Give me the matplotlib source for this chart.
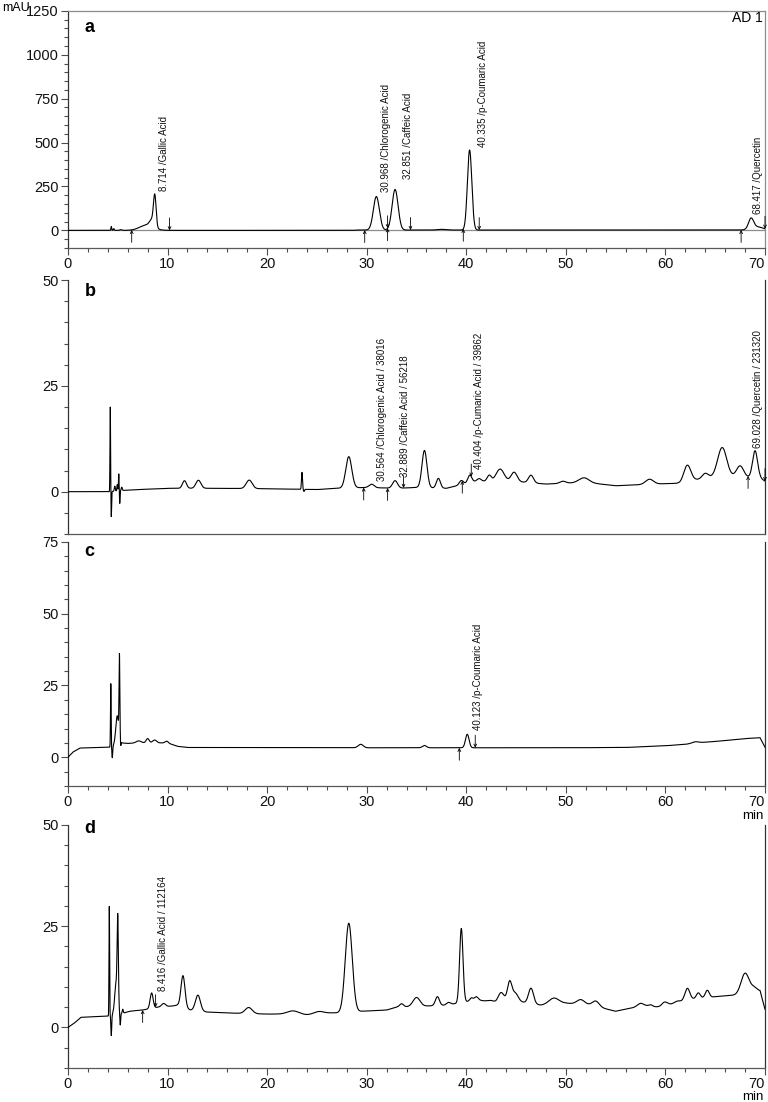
import numpy as np
import matplotlib
matplotlib.use("Agg")
import matplotlib.pyplot as plt
from matplotlib.ticker import MultipleLocator

plt.rcParams['font.family'] = ['Liberation Sans', 'DejaVu Sans']

# ---------------------------------------------------------------------------
# Chromatogram data (time in min, signal in mAU)
# baseline knots + peaks (centre, height above baseline, width)

# a : standards
a_base_t = [0, 28.7, 29.0, 70]
a_base_y = [0, 0, 2, 2]
a_peak_t = [4.35, 4.6, 5.3, 7.9, 8.45, 8.72, 30.97, 32.85, 37.5, 40.335, 68.6, 69.2]
a_peak_h = [22, 10, 4, 30, 40, 170, 191, 231, 4, 456, 58, 18]
a_peak_w = [0.04, 0.05, 0.1, 0.7, 0.25, 0.13, 0.3, 0.3, 0.4, 0.22, 0.25, 0.6]
a_labels = ["8.714 /Gallic Acid", "30.968 /Chlorogenic Acid", "32.851 /Caffeic Acid",
            "40.335 /p-Coumaric Acid", "68.417 /Quercetin"]
a_label_t = [9.65, 31.95, 34.1, 41.65, 69.3]
a_label_y = [227, 216, 290, 477, 91]
a_up = [6.4, 29.8, 32.1, 39.7, 67.6]
a_down = [10.2, 32.1, 34.4, 41.3, 70.0]

# b
b_base_t = [0, 4.2, 5.5, 7, 10, 15, 20, 25, 27, 30, 33, 35, 38, 41, 45, 48, 52, 55,
            58, 60, 61.5, 63, 65, 67, 69.5, 70]
b_base_y = [0, 0, 0.3, 0.5, 0.8, 0.8, 0.7, 0.5, 0.8, 1.0, 0.8, 1.0, 0.8, 2.5, 2.4, 1.8,
            2.2, 1.4, 1.7, 1.9, 2.0, 2.8, 3.5, 3.6, 3.2, 2.5]
b_peak_t = [4.25, 4.35, 4.7, 4.95, 5.1, 5.2, 5.4, 11.7, 13.1, 18.2, 23.5, 23.7, 28.2,
            30.5, 32.85, 35.8, 37.2, 39.5, 40.35, 41.3, 42.3, 43.4, 44.8, 46.5, 49.7,
            51.8, 58.4, 62.2, 64.0, 65.7, 67.5, 69.0]
b_peak_h = [20, -6, 1.2, 1.5, 4, -3, 0.8, 1.8, 1.9, 2.0, 4.0, -0.5, 7.4,
            0.8, 1.8, 8.8, 2.3, 1.0, 1.8, 0.6, 1.4, 2.9, 2.2, 1.8, 0.5,
            1.1, 1.2, 3.9, 1.2, 6.9, 2.6, 6.4]
b_peak_w = [0.03, 0.03, 0.05, 0.04, 0.03, 0.03, 0.05, 0.2, 0.25, 0.3, 0.05, 0.05, 0.3,
            0.25, 0.25, 0.25, 0.2, 0.2, 0.2, 0.2, 0.2, 0.4, 0.3, 0.25, 0.3,
            0.5, 0.4, 0.35, 0.3, 0.45, 0.35, 0.25]
b_labels = ["30.564 /Chlorogenic Acid / 38016", "32.889 /Caffeic Acid / 56218",
            "40.404 /p-Cumaric Acid / 39862", "69.028 /Quercetin / 231320"]
b_label_t = [31.5, 33.8, 41.3, 69.3]
b_label_y = [2.5, 3.5, 5.4, 10.3]
b_up = [29.7, 32.1, 39.6, 68.3]
b_down = [33.7, 40.5, 70.0]

# c
c_base_t = [0, 0.5, 1.2, 4.2, 5.4, 6, 7, 10, 11, 12, 30, 50, 56, 60, 62, 63, 65, 68, 69.5, 70]
c_base_y = [0, 1.8, 3.2, 3.5, 5.0, 4.8, 5.0, 5.0, 3.8, 3.4, 3.3, 3.3, 3.4, 4.0, 4.5,
            5.0, 5.5, 6.5, 6.8, 3.5]
c_peak_t = [4.3, 4.45, 4.95, 5.17, 5.3, 7.1, 8.0, 8.7, 9.9, 29.4, 35.8, 40.1, 63.0]
c_peak_h = [22, -4, 10, 28, -1.5, 0.7, 1.5, 1.0, 0.6, 1.2, 0.8, 4.7, 0.4]
c_peak_w = [0.03, 0.04, 0.15, 0.04, 0.03, 0.25, 0.15, 0.2, 0.15, 0.25, 0.2, 0.18, 0.3]
c_labels = ["40.123 /p-Coumaric Acid"]
c_label_t = [41.2]
c_label_y = [9.4]
c_up = [39.3]
c_down = [40.9]

# d
d_base_t = [0, 0.6, 1.3, 4.0, 5.5, 6.2, 7.5, 9, 10.5, 11.0, 12.3, 14, 17, 20, 21, 24,
            26.5, 27.5, 29.5, 32, 33, 36, 38, 41, 42, 43, 45, 47.5, 50, 52.3, 54, 55,
            57, 58, 59.5, 61, 62.8, 65, 67, 69.5, 70]
d_base_y = [0, 1.0, 2.5, 2.8, 3.5, 4.0, 4.3, 5.0, 5.3, 5.5, 4.3, 3.8, 3.5, 3.3, 3.3,
            3.1, 3.6, 3.6, 4.0, 4.3, 5.0, 5.3, 5.5, 6.8, 6.5, 6.0, 6.5, 5.5, 6.0, 5.5,
            4.6, 4.0, 5.0, 5.3, 5.0, 6.0, 7.0, 7.6, 8.0, 9.0, 4.5]
d_peak_t = [4.15, 4.35, 4.85, 5.0, 5.25, 5.5, 8.4, 9.6, 11.55, 13.05, 18.15, 22.6, 25.2,
            28.2, 33.5, 35.0, 37.1, 38.2, 39.5, 40.5, 41.0, 42.5, 43.5, 44.35, 44.9,
            46.5, 48.8, 51.5, 53.0, 57.5, 58.5, 59.9, 61.2, 62.2, 63.3, 64.2, 68.0, 68.9]
d_peak_h = [27, -5, 8, 20, -3, 1, 3.8, 0.8, 7.8, 3.9, 1.5, 0.9, 0.6,
            22, 0.8, 2.2, 2.2, 0.6, 18.3, 0.7, 0.8, 0.4, 2.5, 4.8, 2.0,
            3.8, 1.5, 1.2, 1.4, 0.8, 0.4, 1.0, 0.4, 3.0, 1.4, 1.8, 5.0, 1.0]
d_peak_w = [0.03, 0.04, 0.15, 0.06, 0.04, 0.05, 0.15, 0.2, 0.2, 0.25, 0.35, 0.6, 0.5,
            0.35, 0.2, 0.35, 0.2, 0.2, 0.17, 0.15, 0.2, 0.3, 0.3, 0.22, 0.3,
            0.25, 0.5, 0.4, 0.35, 0.3, 0.2, 0.3, 0.3, 0.25, 0.2, 0.2, 0.4, 0.3]
d_labels = ["8.416 /Gallic Acid / 112164"]
d_label_t = [9.5]
d_label_y = [8.9]
d_up = [7.5]
d_down = [8.8]

x_ticks = [0, 10, 20, 30, 40, 50, 60, 70]

t = np.linspace(0, 70, 7001)


def trace(base_t, base_y, peak_t, peak_h, peak_w):
    """Baseline plus gaussian peaks on the time grid"""
    y = np.interp(t, base_t, base_y)
    for c, h, w in zip(peak_t, peak_h, peak_w):
        y += h * np.exp(-0.5 * ((t - c) / w) ** 2)
    return y


panels = [
    dict(name="a", base=(a_base_t, a_base_y), peaks=(a_peak_t, a_peak_h, a_peak_w),
         labels=(a_labels, a_label_t, a_label_y), up=a_up, down=a_down,
         ylim=(-100, 1250), major=250, minor=50, rect=[0.0885, 0.7750, 0.9076, 0.2151],
         letter_y=0.93, xlabels=True),
    dict(name="b", base=(b_base_t, b_base_y), peaks=(b_peak_t, b_peak_h, b_peak_w),
         labels=(b_labels, b_label_t, b_label_y), up=b_up, down=b_down,
         ylim=(-10, 50), major=25, minor=5, rect=[0.0885, 0.5154, 0.9076, 0.2305],
         letter_y=0.953, xlabels=False),
    dict(name="c", base=(c_base_t, c_base_y), peaks=(c_peak_t, c_peak_h, c_peak_w),
         labels=(c_labels, c_label_t, c_label_y), up=c_up, down=c_down,
         ylim=(-10, 75), major=25, minor=5, rect=[0.0885, 0.2868, 0.9076, 0.2214],
         letter_y=0.96, xlabels=True),
    dict(name="d", base=(d_base_t, d_base_y), peaks=(d_peak_t, d_peak_h, d_peak_w),
         labels=(d_labels, d_label_t, d_label_y), up=d_up, down=d_down,
         ylim=(-10, 50), major=25, minor=5, rect=[0.0885, 0.0309, 0.9076, 0.2205],
         letter_y=0.985, xlabels=True),
]

fig = plt.figure(figsize=(7.68, 11.02), dpi=100)

for p in panels:
    ax = fig.add_axes(p["rect"])
    y = trace(*p["base"], *p["peaks"])
    if p["name"] == "a":
        ax.axhline(0, color="0.55", lw=0.9, zorder=1)
    ax.plot(t, y, color="black", lw=0.8, zorder=3)
    ax.set_xlim(0, 70)
    ax.set_ylim(*p["ylim"])

    # spines
    ax.spines["left"].set_color("0.2")
    ax.spines["bottom"].set_color("0.35")
    ax.spines["right"].set_color("0.2")
    if p["name"] == "a":
        ax.spines["top"].set_color("0.55")
        ax.spines["right"].set_color("0.55")
    else:
        ax.spines["top"].set_visible(False)
    for s in ax.spines.values():
        s.set_linewidth(0.9)

    # ticks
    ax.yaxis.set_major_locator(MultipleLocator(p["major"]))
    ax.yaxis.set_minor_locator(MultipleLocator(p["minor"]))
    ax.set_xticks(x_ticks)
    ax.xaxis.set_minor_locator(MultipleLocator(2))
    ax.tick_params(which="both", direction="out", color="0.3", width=0.8,
                   labelsize=10.5, labelcolor="#111111", pad=1.5)
    ax.tick_params(which="major", length=5)
    ax.tick_params(which="minor", length=3)
    ax.tick_params(axis="both", which="both", right=False, top=False)
    if p["xlabels"]:
        labels = ax.set_xticklabels([str(v) for v in x_ticks])
        labels[-1].set_horizontalalignment("right")
    else:
        ax.tick_params(axis="x", which="both", bottom=False, labelbottom=False)

    # integration markers
    for tm in p["up"]:
        ym = np.interp(tm, t, y)
        ax.annotate("", xy=(tm, ym), xytext=(0, -9), textcoords="offset points",
                    arrowprops=dict(arrowstyle="->", lw=0.6, color="black",
                                    mutation_scale=5, shrinkA=0, shrinkB=0), zorder=4)
    for tm in p["down"]:
        ym = np.interp(tm, t, y)
        ax.annotate("", xy=(tm, ym), xytext=(0, 9), textcoords="offset points",
                    arrowprops=dict(arrowstyle="->", lw=0.6, color="black",
                                    mutation_scale=5, shrinkA=0, shrinkB=0), zorder=4)

    # peak labels
    for txt, tl, yl in zip(*p["labels"]):
        ax.text(tl, yl, txt, rotation=90, ha="center", va="bottom",
                fontsize=7, color="#111111")

    ax.text(0.024, p["letter_y"], p["name"], transform=ax.transAxes,
            fontsize=13, fontweight="bold", ha="left", va="center")

    if p["name"] == "a":
        ax.text(0.997, 0.97, "AD 1", transform=ax.transAxes, fontsize=10,
                ha="right", va="center")

fig.text(2 / 768, 1 - 8 / 1102, "mAU", fontsize=9, ha="left", va="center")
fig.text(764 / 768, 1 - 816 / 1102, "min", fontsize=9.5, ha="right", va="center")
fig.text(764 / 768, 1 - 1097 / 1102, "min", fontsize=9.5, ha="right", va="center")

fig.savefig("out.png", dpi=100)
